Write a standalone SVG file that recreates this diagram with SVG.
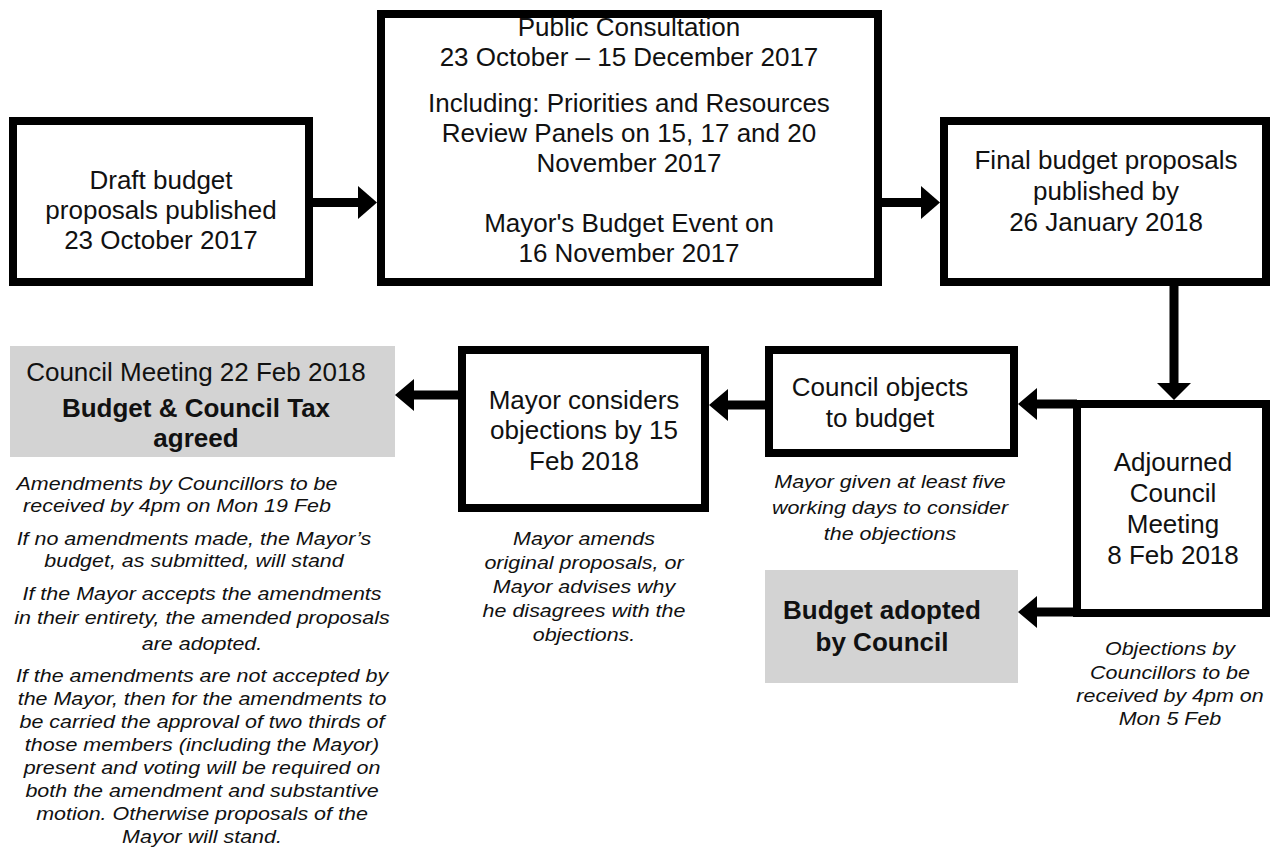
<svg xmlns="http://www.w3.org/2000/svg" width="1274" height="853" viewBox="0 0 1274 853">
<style>
.box{fill:#fff;stroke:#000;stroke-width:8}
.gray{fill:#d3d3d3;stroke:none}
.t{font-family:"Liberation Sans",Arial,sans-serif;font-size:26px;fill:#111;text-anchor:middle}
.b{font-weight:bold}
.i{font-family:"Liberation Sans",Arial,sans-serif;font-size:19px;font-style:italic;fill:#111;text-anchor:middle}
.ln{stroke:#000;stroke-width:9;fill:none}
.hd{fill:#000}
</style>
<rect width="1274" height="853" fill="#fff"/>
<g id="connectors">
  <line class="ln" x1="313" y1="202.5" x2="360" y2="202.5"/>
  <polygon class="hd" points="358,186 377,202.5 358,219"/>
  <line class="ln" x1="882" y1="202.5" x2="923" y2="202.5"/>
  <polygon class="hd" points="921,186 940,202.5 921,219"/>
  <line class="ln" x1="1174" y1="286" x2="1174" y2="386"/>
  <polygon class="hd" points="1157,383 1174,400 1191,383"/>
  <line class="ln" x1="1077" y1="404" x2="1035" y2="404"/>
  <polygon class="hd" points="1037,388 1018,404 1037,420"/>
  <line class="ln" x1="1077" y1="612" x2="1035" y2="612"/>
  <polygon class="hd" points="1037,596 1018,612 1037,628"/>
  <line class="ln" x1="765" y1="405" x2="726" y2="405"/>
  <polygon class="hd" points="728,389 709,405 728,421"/>
  <line class="ln" x1="458" y1="395" x2="412" y2="395"/>
  <polygon class="hd" points="414,379 395,395 414,411"/>
</g>
<g id="draft">
  <rect class="box" x="13" y="121" width="296" height="161"/>
  <text class="t" x="161" y="189">Draft budget</text>
  <text class="t" x="161" y="219">proposals published</text>
  <text class="t" x="161" y="249">23 October 2017</text>
</g>
<g id="consultation">
  <rect class="box" x="381" y="14" width="497" height="268"/>
  <text class="t" x="629" y="36">Public Consultation</text>
  <text class="t" x="629" y="66">23 October – 15 December 2017</text>
  <text class="t" x="629" y="112">Including: Priorities and Resources</text>
  <text class="t" x="629" y="142">Review Panels on 15, 17 and 20</text>
  <text class="t" x="629" y="172">November 2017</text>
  <text class="t" x="629" y="232">Mayor's Budget Event on</text>
  <text class="t" x="629" y="262">16 November 2017</text>
</g>
<g id="final">
  <rect class="box" x="944" y="121" width="322" height="161"/>
  <text class="t" x="1106" y="169">Final budget proposals</text>
  <text class="t" x="1106" y="200">published by</text>
  <text class="t" x="1106" y="231">26 January 2018</text>
</g>
<g id="adjourned">
  <rect class="box" x="1077" y="404" width="189" height="209"/>
  <text class="t" x="1173" y="471">Adjourned</text>
  <text class="t" x="1173" y="502">Council</text>
  <text class="t" x="1173" y="533">Meeting</text>
  <text class="t" x="1173" y="564">8 Feb 2018</text>
  <g transform="translate(1170,0) scale(1.13,1)">
    <text class="i" x="0" y="655">Objections by</text>
    <text class="i" x="0" y="679">Councillors to be</text>
    <text class="i" x="0" y="702">received by 4pm on</text>
    <text class="i" x="0" y="725">Mon 5 Feb</text>
  </g>
</g>
<g id="objects">
  <rect class="box" x="769" y="350" width="245" height="103"/>
  <text class="t" x="880" y="396">Council objects</text>
  <text class="t" x="880" y="427">to budget</text>
  <g transform="translate(890,0) scale(1.13,1)">
    <text class="i" x="0" y="488">Mayor given at least five</text>
    <text class="i" x="0" y="514">working days to consider</text>
    <text class="i" x="0" y="540">the objections</text>
  </g>
</g>
<g id="adopted">
  <rect class="gray" x="765" y="570" width="253" height="113"/>
  <text class="t b" x="882" y="619">Budget adopted</text>
  <text class="t b" x="882" y="651">by Council</text>
</g>
<g id="mayor">
  <rect class="box" x="462" y="350" width="243" height="158"/>
  <text class="t" x="584" y="409">Mayor considers</text>
  <text class="t" x="584" y="439">objections by 15</text>
  <text class="t" x="584" y="470">Feb 2018</text>
  <g transform="translate(584,0) scale(1.13,1)">
    <text class="i" x="0" y="545">Mayor amends</text>
    <text class="i" x="0" y="569">original proposals, or</text>
    <text class="i" x="0" y="593">Mayor advises why</text>
    <text class="i" x="0" y="617">he disagrees with the</text>
    <text class="i" x="0" y="641">objections.</text>
  </g>
</g>
<g id="council-meeting">
  <rect class="gray" x="10" y="346" width="385" height="111"/>
  <text class="t" x="196" y="381">Council Meeting 22 Feb 2018</text>
  <text class="t b" x="196" y="417">Budget &amp; Council Tax</text>
  <text class="t b" x="196" y="447">agreed</text>
  <g transform="translate(177,0) scale(1.13,1)">
    <text class="i" x="0" y="490">Amendments by Councillors to be</text>
    <text class="i" x="0" y="512">received by 4pm on Mon 19 Feb</text>
  </g>
  <g transform="translate(194,0) scale(1.13,1)">
    <text class="i" x="0" y="545">If no amendments made, the Mayor’s</text>
    <text class="i" x="0" y="567">budget, as submitted, will stand</text>
  </g>
  <g transform="translate(202,0) scale(1.13,1)">
    <text class="i" x="0" y="600">If the Mayor accepts the amendments</text>
    <text class="i" x="0" y="624">in their entirety, the amended proposals</text>
    <text class="i" x="0" y="650">are adopted.</text>
    <text class="i" x="0" y="682">If the amendments are not accepted by</text>
    <text class="i" x="0" y="705">the Mayor, then for the amendments to</text>
    <text class="i" x="0" y="728">be carried the approval of two thirds of</text>
    <text class="i" x="0" y="751">those members (including the Mayor)</text>
    <text class="i" x="0" y="774">present and voting will be required on</text>
    <text class="i" x="0" y="797">both the amendment and substantive</text>
    <text class="i" x="0" y="820">motion. Otherwise proposals of the</text>
    <text class="i" x="0" y="843">Mayor will stand.</text>
  </g>
</g>
</svg>
